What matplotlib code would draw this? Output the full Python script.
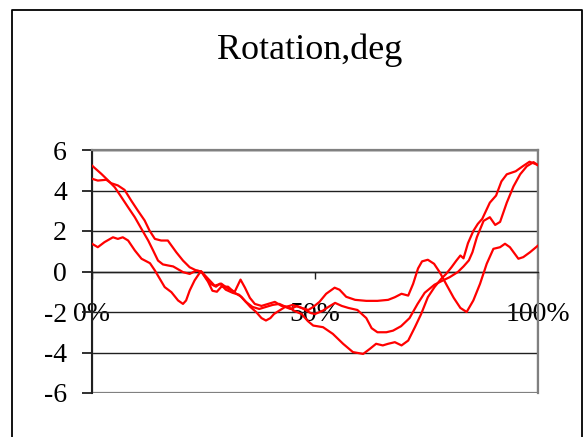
import matplotlib

matplotlib.use("Agg")
import matplotlib.pyplot as plt
from matplotlib.lines import Line2D
from matplotlib.patches import Rectangle

# three rotation traces, x in % of cycle, y in degrees
a_pct = [0, 2.1, 3.6, 5.1, 6.6, 8.1, 9.6, 11.1, 12.6, 13.7, 14.8, 15.9, 17.0,
         18.2, 20.4, 21.9, 23.4, 24.5, 26, 27.5, 29, 30.5, 32, 33.3, 34.3,
         35.4, 36.5, 38, 39.5, 41, 42.5, 44, 45.4, 47, 48.4, 49.6, 51.8, 54,
         56.3, 58.5, 60.8, 62.3, 63.7, 65.2, 66.4, 67.9, 69.4, 70.9, 72.4,
         73.8, 75.3, 76.8, 78.3, 79.4, 80.6, 81.7, 82.6, 83.3, 84.3, 85.5,
         86.5, 87.5, 89.2, 90.6, 91.8, 93, 95, 96.6, 98.1, 99.3, 100]
a_val = [5.23, 4.82, 4.5, 4.16, 3.67, 3.17, 2.68, 2.1, 1.53, 1.04, 0.54, 0.35,
         0.3, 0.25, -0.03, -0.12, 0.05, 0.0, -0.35, -0.7, -0.6, -0.85, -1.0,
         -0.4, -0.8, -1.3, -1.6, -1.7, -1.6, -1.5, -1.7, -1.75, -1.95, -2.1,
         -2.45, -2.67, -2.75, -3.08, -3.57, -3.98, -4.07, -3.82, -3.57, -3.65,
         -3.57, -3.49, -3.65, -3.41, -2.75, -2.1, -1.27, -0.77, -0.36, -0.12,
         0.21, 0.54, 0.79, 0.65, 1.4, 2.0, 2.35, 2.6, 3.4, 3.75, 4.45, 4.8,
         4.95, 5.2, 5.42, 5.32, 5.25]

b_pct = [0, 1.3, 3.2, 4.3, 5.8, 7.3, 8.8, 10.3, 11.8, 12.9, 14.1, 15.5, 17.0,
         18.9, 20.4, 21.9, 23.4, 24.5, 26, 27, 28, 29, 30.5, 32, 33.5, 34.3,
         35.5, 36.8, 38, 39, 40, 40.8, 42, 43.3, 44.5, 46, 47.5, 49, 50, 51.8,
         53, 54.5, 56, 57.5, 59.5, 61.5, 62.7, 64, 66, 67.5, 69.3, 71.2, 73,
         74.6, 76.8, 78.7, 80.2, 82, 83.3, 84.5, 85.3, 86.3, 87.8, 89.2, 90.4,
         91.5, 93, 94.5, 96, 97.5, 99, 100]
b_val = [4.58, 4.49, 4.53, 4.36, 4.25, 4.03, 3.5, 3.0, 2.52, 2.02, 1.61, 1.53,
         1.53, 0.95, 0.54, 0.21, 0.05, 0.0, -0.5, -0.95, -1.0, -0.75, -0.75,
         -1.05, -1.25, -1.45, -1.75, -2.0, -2.3, -2.42, -2.3, -2.1, -1.93,
         -1.75, -1.85, -1.7, -1.85, -2.05, -2.1, -1.93, -1.75, -1.55, -1.7,
         -1.8, -1.9, -2.3, -2.8, -3.0, -3.0, -2.92, -2.7, -2.3, -1.6, -1.05,
         -0.65, -0.44, -0.28, -0.03, 0.25, 0.55, 0.95, 1.7, 2.5, 2.68, 2.3,
         2.45, 3.4, 4.2, 4.8, 5.2, 5.4, 5.25]

c_pct = [0, 1.3, 2.8, 4.7, 5.8, 6.9, 8.1, 9.6, 11.1, 13, 14.1, 15.2, 16.3,
         17.8, 19.3, 20.4, 21.1, 21.9, 23, 24.1, 24.5, 25.5, 26.5, 27.8, 28.7,
         30, 31.5, 33, 34.5, 36, 37.5, 39, 40.5, 42, 43.5, 45, 47, 48.5, 49.6,
         51, 52.5, 54.4, 55.5, 57, 59, 61.5, 64, 66.4, 67.9, 69.4, 70.9, 72,
         73.1, 74, 75.3, 76.7, 78, 79.6, 81.1, 82.6, 84, 85.5, 87, 88.5, 90,
         91.5, 92.6, 93.7, 95.6, 96.7, 98.2, 100]
c_val = [1.37, 1.2, 1.45, 1.69, 1.61, 1.69, 1.53, 1.04, 0.63, 0.41, 0.05,
         -0.36, -0.77, -1.02, -1.43, -1.6, -1.43, -0.94, -0.44, -0.08, 0.0,
         -0.3, -0.6, -0.75, -0.6, -0.9, -1.05, -1.15, -1.5, -1.75, -1.85,
         -1.75, -1.65, -1.6, -1.75, -1.65, -1.8, -1.9, -1.75, -1.5, -1.1, -0.8,
         -0.9, -1.25, -1.4, -1.45, -1.45, -1.4, -1.27, -1.1, -1.19, -0.61,
         0.15, 0.5, 0.58, 0.38, -0.05, -0.7, -1.3, -1.8, -2.0, -1.43, -0.61,
         0.38, 1.12, 1.2, 1.37, 1.2, 0.63, 0.71, 0.95, 1.28]

x_ticks = [0, 50, 100]
x_labels = ["0%", "50%", "100%"]
y_ticks = [-6, -4, -2, 0, 2, 4, 6]

plt.rcParams["font.family"] = ["Liberation Serif", "DejaVu Serif"]

fig = plt.figure(figsize=(5.85, 4.37), dpi=100)
ax = fig.add_axes([92 / 585, 1 - 393 / 437, 446 / 585, 243 / 437])

for pct, val in [(a_pct, a_val), (b_pct, b_val), (c_pct, c_val)]:
    ax.plot(pct, val, color="#ff0000", linewidth=1.6, zorder=3)

ax.set_xlim(0, 100)
ax.set_ylim(-6, 6)
ax.set_yticks(y_ticks)
ax.set_yticklabels([str(v) for v in y_ticks])
ax.set_xticks(x_ticks)
ax.set_xticklabels(x_labels)
ax.yaxis.grid(True, color="#202020", linewidth=1.0)
ax.set_axisbelow(True)

for side in ["top", "right"]:
    ax.spines[side].set_color("#808080")
    ax.spines[side].set_linewidth(1.6)
ax.spines["bottom"].set_position(("data", 0))
ax.spines["bottom"].set_color("#202020")
ax.spines["bottom"].set_linewidth(1.0)
ax.spines["left"].set_color("#202020")
ax.spines["left"].set_linewidth(1.5)
# gray line closing the plot area at the bottom
ax.add_patch(Rectangle((0, 0), 1, 1, transform=ax.transAxes, fill=False,
                       edgecolor="#808080", linewidth=1.6, zorder=1))

ax.tick_params(axis="y", direction="out", length=7, width=1.3,
               color="#202020", labelsize=20, pad=11)
ax.tick_params(axis="x", direction="out", length=5, width=1.0,
               color="#202020", labelsize=20, pad=17)

fig.text(310 / 585, 1 - 59 / 437, "Rotation,deg", ha="center",
         va="baseline", fontsize=26)

# outer chart border, open at the bottom edge
fig.add_artist(Line2D([12 / 585, 12 / 585, 582 / 585, 582 / 585],
                      [-0.1, 1 - 9.5 / 437, 1 - 9.5 / 437, -0.1],
                      color="black", linewidth=1.3))

fig.savefig("out.png", dpi=100)
